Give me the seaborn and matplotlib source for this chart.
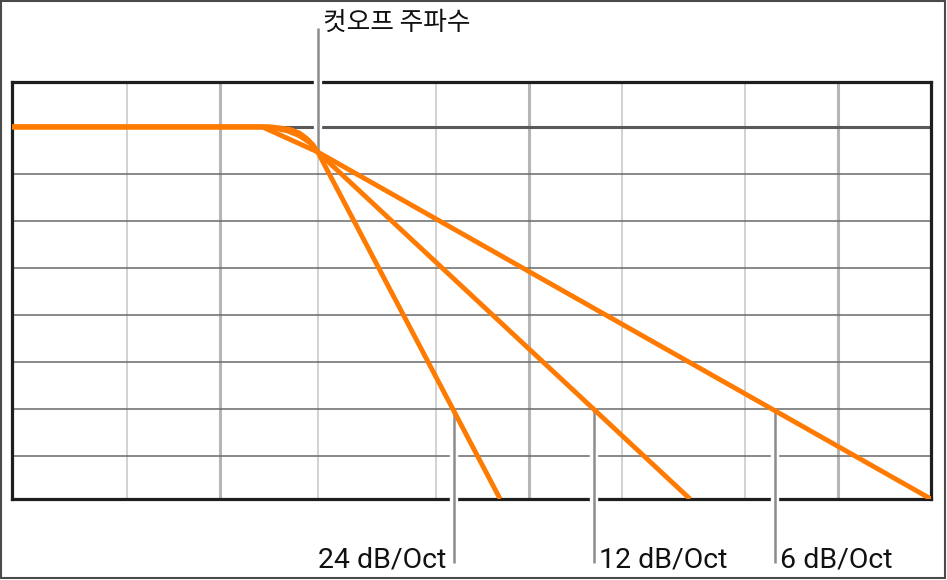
"""Low-pass filter slopes: cutoff frequency and 6/12/24 dB per octave."""

import matplotlib

matplotlib.use("Agg")
import matplotlib.pyplot as plt
import matplotlib.patheffects as pe
from matplotlib.patches import Rectangle
from matplotlib.transforms import offset_copy
import seaborn as sns

# grid positions (Hz / dB)
decade_lines = [100, 1000, 10000]
minor_lines = [50, 207, 500, 2000, 5000]
db_lines = [-6, -12, -18, -24, -30, -36, -42]
zero_db = 0

cutoff_hz = 207
cutoff_db = -3.2

# filter curves
curve_6_f = [21.2, 137, 207, 20000]
curve_6_db = [0, 0, -3.2, -47.5]
curve_12_f = [21.2, 143, 165, 180, 195, 207, 3320]
curve_12_db = [0, 0, -0.5, -1.1, -2.0, -3.2, -47.5]
curve_24_f = [21.2, 147, 168, 181, 191, 200, 207, 806]
curve_24_db = [0, 0, -0.3, -0.8, -1.5, -2.3, -3.2, -47.5]

slope_labels = ["24 dB/Oct", "12 dB/Oct", "6 dB/Oct"]
slope_marker_f = [570, 1620, 6250]
slope_marker_db = -35.9
cutoff_label = "컷오프 주파수"

ORANGE = "#ff7a00"

sns.set_theme(style="white")
plt.rcParams["font.family"] = ["Roboto", "DejaVu Sans"]

fig = plt.figure(figsize=(9.47, 5.80), dpi=100)
ax = fig.add_axes([12 / 947, 81 / 580, 919 / 947, 417.5 / 580])
ax.set_xscale("log")
ax.set_xlim(21.2, 20000)
ax.set_ylim(-47.5, 5.8)
ax.set_xticks([])
ax.set_yticks([])
ax.xaxis.set_minor_locator(matplotlib.ticker.NullLocator())
ax.tick_params(length=0, labelbottom=False, labelleft=False)

for s in ax.spines.values():
    s.set_color("#1e1e1e")
    s.set_linewidth(2.3)
    s.set_zorder(2.5)

# grid
for f in decade_lines:
    ax.axvline(f, color="#b6b6b6", lw=2.2, zorder=1)
for f in minor_lines:
    ax.axvline(f, color="#c6c6c6", lw=1.1, zorder=1)
for d in db_lines:
    ax.axhline(d, color="#6a6a6a", lw=1.1, zorder=1.2)
ax.axhline(zero_db, color="#5a5a5a", lw=2.2, zorder=1.2)

# leader lines (with white halo that cuts the grid and frame)
halo = [pe.Stroke(linewidth=6.0, foreground="white"), pe.Normal()]
ax.plot([cutoff_hz, cutoff_hz], [12.6, cutoff_db], color="#8c8c8c", lw=1.8,
        solid_capstyle="butt", clip_on=False, zorder=3, path_effects=halo)
for f in slope_marker_f:
    ax.plot([f, f], [slope_marker_db - 0.2, -55.7], color="#8c8c8c", lw=1.8,
            solid_capstyle="butt", clip_on=False, zorder=3, path_effects=halo)

# curves
for fx, dbx in [(curve_6_f, curve_6_db), (curve_12_f, curve_12_db), (curve_24_f, curve_24_db)]:
    sns.lineplot(x=fx, y=dbx, ax=ax, color=ORANGE, linewidth=3.5, sort=False,
                 estimator=None, zorder=4, solid_capstyle="butt")

# labels
left_shift = offset_copy(ax.transData, fig=fig, x=-7, y=0, units="dots")
right_shift = offset_copy(ax.transData, fig=fig, x=5, y=0, units="dots")
ax.text(slope_marker_f[0], -56.2, slope_labels[0], transform=left_shift,
        ha="right", va="baseline", fontsize=20.5, color="#111111", clip_on=False)
for f, lab in zip(slope_marker_f[1:], slope_labels[1:]):
    ax.text(f, -56.2, lab, transform=right_shift, ha="left", va="baseline",
            fontsize=20.5, color="#111111", clip_on=False)
ax.text(cutoff_hz, 13.3, cutoff_label, transform=right_shift, ha="left", va="center",
        fontsize=18.5, color="#111111", family=["Noto Sans CJK KR", "DejaVu Sans"],
        clip_on=False)

# outer frame
fig.patches.append(Rectangle((1 / 947, 2 / 580), 944 / 947, 577 / 580, transform=fig.transFigure,
                             fill=False, edgecolor="#4a4a4a", linewidth=1.5))

fig.savefig("out.png", dpi=100)
plt.close(fig)
